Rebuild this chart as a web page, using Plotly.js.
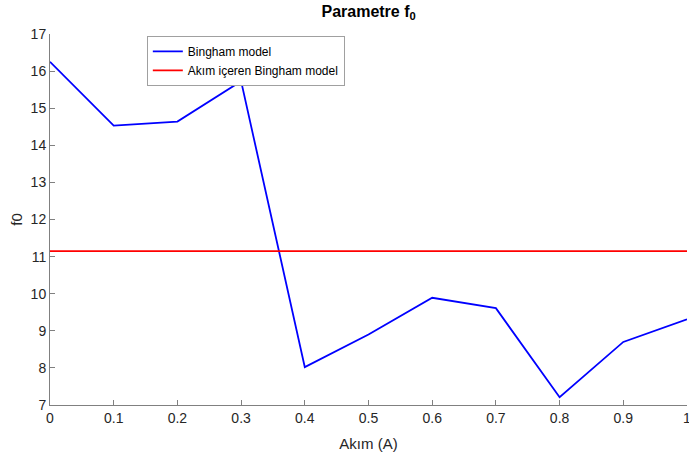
<!DOCTYPE html>
<html>
<head>
<meta charset="utf-8">
<script src="https://cdn.plot.ly/plotly-3.0.1.min.js"></script>
<style>
  html, body { margin: 0; padding: 0; background: #fff; }
  #chart { width: 689px; height: 463px; }
</style>
</head>
<body>
<div id="chart"></div>
<script>
// Current values (A)
const akim = [0, 0.1, 0.2, 0.3, 0.4, 0.5, 0.6, 0.7, 0.8, 0.9, 1.0];
// Parameter f0 from the Bingham model at each current
const binghamF0 = [16.25, 14.53, 14.64, 15.73, 8.02, 8.90, 9.89, 9.61, 7.21, 8.70, 9.31];
// Constant f0 from the current-dependent Bingham model
const akimIcerenF0 = 11.15;

const xTicks = [0, 0.1, 0.2, 0.3, 0.4, 0.5, 0.6, 0.7, 0.8, 0.9, 1];
const xTickText = ['0', '0.1', '0.2', '0.3', '0.4', '0.5', '0.6', '0.7', '0.8', '0.9', '1'];
const yTicks = [7, 8, 9, 10, 11, 12, 13, 14, 15, 16, 17];

const FONT = '"Liberation Sans Narrow", "Arial Narrow", "Liberation Sans", Arial, sans-serif';

const traces = [
  {
    x: akim,
    y: binghamF0,
    type: 'scatter',
    mode: 'lines',
    name: 'Bingham model',
    line: { color: '#0000ff', width: 1.8 }
  },
  {
    x: [akim[0], akim[akim.length - 1]],
    y: [akimIcerenF0, akimIcerenF0],
    type: 'scatter',
    mode: 'lines',
    name: 'Akım içeren Bingham model',
    line: { color: '#ff0000', width: 1.8 }
  }
];

const layout = {
  width: 689,
  height: 463,
  margin: { l: 50, r: 2, t: 34, b: 58 },
  paper_bgcolor: '#ffffff',
  plot_bgcolor: '#ffffff',
  font: { family: FONT, size: 14, color: '#262626' },
  title: {
    text: '<b>Parametre f<sub>0</sub></b>',
    font: { family: FONT, size: 16, color: '#000000' },
    x: 0.535,
    xanchor: 'center',
    y: 0.988,
    yanchor: 'top'
  },
  showlegend: true,
  legend: {
    x: 0.152,
    y: 0.995,
    xanchor: 'left',
    yanchor: 'top',
    bgcolor: '#ffffff',
    bordercolor: '#a0a0a0',
    borderwidth: 1,
    font: { family: FONT, size: 12, color: '#000000' },
    itemwidth: 30,
    tracegroupgap: 0
  },
  xaxis: {
    range: [0, 1],
    tickvals: xTicks,
    ticktext: xTickText,
    ticks: 'inside',
    ticklen: 5,
    tickcolor: '#808080',
    ticklabeloverflow: 'allow',
    showline: true,
    linecolor: '#808080',
    linewidth: 1,
    mirror: false,
    showgrid: false,
    zeroline: false,
    tickfont: { family: FONT, size: 14, color: '#262626' },
    title: { text: 'Akım (A)', font: { family: FONT, size: 15, color: '#262626' }, standoff: 13 }
  },
  yaxis: {
    range: [7, 17],
    tickvals: yTicks,
    ticks: 'inside',
    ticklen: 5,
    tickcolor: '#808080',
    showline: true,
    linecolor: '#808080',
    linewidth: 1,
    mirror: false,
    showgrid: false,
    zeroline: false,
    tickfont: { family: FONT, size: 14, color: '#262626' },
    title: { text: 'f0', font: { family: FONT, size: 15, color: '#262626' }, standoff: 4 }
  }
};

Plotly.newPlot('chart', traces, layout, { displayModeBar: false, staticPlot: true });
</script>
</body>
</html>
